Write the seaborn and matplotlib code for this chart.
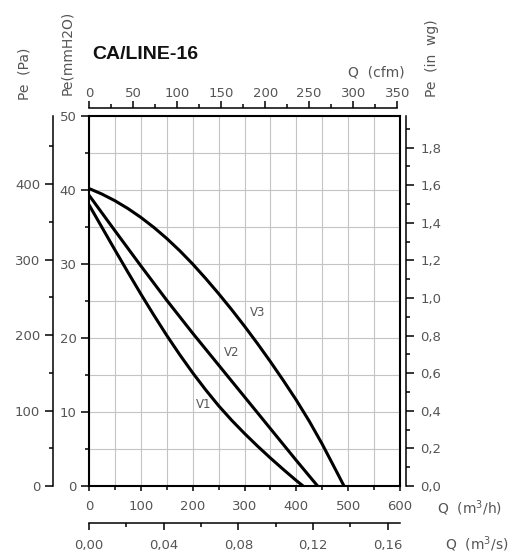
import numpy as np
import pandas as pd
import matplotlib
matplotlib.use("Agg")
import matplotlib.pyplot as plt
import seaborn as sns
from matplotlib.ticker import MultipleLocator, FuncFormatter

# curve data: Q in m3/h, Pe in mmH2O
q_v1 = [0, 25, 50, 75, 100, 125, 150, 175, 200, 225, 250, 275, 300, 325, 350, 375, 400, 413]
pe_v1 = [38.0, 34.95, 31.9, 28.9, 25.95, 23.1, 20.35, 17.75, 15.3, 13.0, 10.85, 8.9,
         7.1, 5.4, 3.78, 2.23, 0.73, 0.0]

q_v2 = [0, 50, 100, 150, 200, 250, 300, 350, 400, 441]
pe_v2 = [39.3, 34.5, 29.75, 25.1, 20.65, 16.35, 12.05, 7.75, 3.45, 0.0]

q_v3 = [0, 25, 50, 75, 100, 125, 150, 175, 200, 225, 250, 275, 300, 325, 350, 375,
        400, 425, 450, 475, 492]
pe_v3 = [40.2, 39.45, 38.55, 37.5, 36.3, 34.95, 33.45, 31.8, 30.0, 28.05, 26.0, 23.85,
         21.6, 19.25, 16.8, 14.25, 11.6, 8.75, 5.65, 2.3, 0.0]

curve_names = ["V1", "V2", "V3"]
label_pos = {"V1": (221, 11.0), "V2": (275, 18.1), "V3": (326, 23.4)}

title = "CA/LINE-16"

df = pd.concat([
    pd.DataFrame({"q": q_v1, "pe": pe_v1, "curve": "V1"}),
    pd.DataFrame({"q": q_v2, "pe": pe_v2, "curve": "V2"}),
    pd.DataFrame({"q": q_v3, "pe": pe_v3, "curve": "V3"}),
])

sns.set_theme(style="white")
plt.rcParams["font.family"] = ["DejaVu Sans"]

txt = "#555555"
fs = 9.5
lfs = 10

W, H = 515, 554
fig = plt.figure(figsize=(W / 100, H / 100), dpi=100)
# main axes: x 0..600 m3/h at px 89..400, y 0..50 mmH2O at px 486..116
ax = fig.add_axes([89 / W, 1 - 486 / H, 311 / W, 370 / H])

sns.lineplot(data=df, x="q", y="pe", hue="curve",
             palette={c: "black" for c in curve_names},
             linewidth=2.2, legend=False, ax=ax)

ax.set_xlim(0, 600)
ax.set_ylim(0, 50)
ax.set_xlabel("")
ax.set_ylabel("")
ax.xaxis.set_major_locator(MultipleLocator(100))
ax.xaxis.set_minor_locator(MultipleLocator(50))
ax.yaxis.set_major_locator(MultipleLocator(10))
ax.yaxis.set_minor_locator(MultipleLocator(5))
ax.set_axisbelow(True)
ax.grid(which="both", color="#c4c4c4", linewidth=0.8)
for s in ax.spines.values():
    s.set_visible(True)
    s.set_color("black")
    s.set_linewidth(1.5)
ax.tick_params(which="both", direction="out", top=False, right=False,
               bottom=True, left=True, colors="black", labelcolor=txt,
               labelsize=fs, width=1.1)
ax.tick_params(axis="x", which="major", length=3.6, pad=6.5)
ax.tick_params(axis="x", which="minor", length=3.0)
ax.tick_params(axis="y", which="major", length=5.8, pad=3.2)
ax.tick_params(axis="y", which="minor", length=3.0)

for name in curve_names:
    x, y = label_pos[name]
    ax.text(x, y, name, fontsize=8.5, color=txt, ha="center", va="center")

# secondary axes
MM_TO_PA = 9.80665
MM_TO_INWG = 1 / 25.4
M3H_TO_CFM = 0.588578
M3H_TO_M3S = 1 / 3600


def comma(fmt):
    return FuncFormatter(lambda v, p: (fmt % v).replace(".", ","))


def style_sec(sec, axis, major, minor, fmt, maj_len, pad):
    a = sec.xaxis if axis == "x" else sec.yaxis
    a.set_major_locator(MultipleLocator(major))
    a.set_minor_locator(MultipleLocator(minor))
    a.set_major_formatter(fmt)
    sec.tick_params(axis=axis, which="both", direction="out", colors="black",
                    labelcolor=txt, labelsize=fs, width=1.1)
    sec.tick_params(axis=axis, which="major", length=maj_len, pad=pad)
    sec.tick_params(axis=axis, which="minor", length=3.0)
    sec.xaxis.offsetText.set_visible(False)
    sec.yaxis.offsetText.set_visible(False)
    for s in sec.spines.values():
        s.set_linewidth(1.1)
        s.set_color("black")


top = ax.secondary_xaxis(1 + 8 / 370, functions=(lambda v: v * M3H_TO_CFM,
                                                 lambda v: v / M3H_TO_CFM))
style_sec(top, "x", 50, 25, FuncFormatter(lambda v, p: "%d" % round(v)), 4.7, 1.2)
top.spines["top"].set_bounds(0, 350)

bot = ax.secondary_xaxis(-37 / 370, functions=(lambda v: v * M3H_TO_M3S,
                                               lambda v: v / M3H_TO_M3S))
style_sec(bot, "x", 0.04, 0.02, comma("%.2f"), 5.0, 6.2)

left = ax.secondary_yaxis(-36 / 311, functions=(lambda v: v * MM_TO_PA,
                                                lambda v: v / MM_TO_PA))
style_sec(left, "y", 100, 50, FuncFormatter(lambda v, p: "%d" % round(v)), 5.8, 3.4)

right = ax.secondary_yaxis(1 + 6 / 311, functions=(lambda v: v * MM_TO_INWG,
                                                   lambda v: v / MM_TO_INWG))
style_sec(right, "y", 0.2, 0.1, comma("%.1f"), 5.8, 4.6)

ax.xaxis.offsetText.set_visible(False)
ax.yaxis.offsetText.set_visible(False)

# texts
fig.text(92 / W, 1 - 59 / H, title, fontsize=14, fontweight="bold",
         family=["Liberation Sans", "DejaVu Sans"], color="#111111",
         ha="left", va="baseline")
fig.text(24.5 / W, 1 - 100 / H, "Pe  (Pa)", rotation=90, fontsize=lfs,
         color=txt, ha="center", va="bottom")
fig.text(67 / W, 1 - 95 / H, "Pe(mmH2O)", rotation=90, fontsize=lfs,
         color=txt, ha="center", va="bottom")
fig.text(432 / W, 1 - 97 / H, "Pe  (in  wg)", rotation=90, fontsize=lfs,
         color=txt, ha="center", va="bottom")
fig.text(405 / W, 1 - 72.5 / H, "Q  (cfm)", fontsize=lfs, color=txt,
         ha="right", va="center")
fig.text(437 / W, 1 - 513 / H, "Q  (m$^3$/h)", fontsize=lfs, color=txt,
         ha="left", va="baseline")
fig.text(445 / W, 1 - 549 / H, "Q  (m$^3$/s)", fontsize=lfs, color=txt,
         ha="left", va="baseline")

fig.savefig("out.png", dpi=100)
